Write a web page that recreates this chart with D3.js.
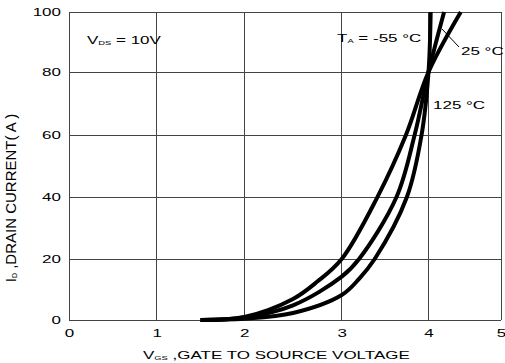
<!DOCTYPE html>
<html><head><meta charset="utf-8">
<script src="https://cdn.jsdelivr.net/npm/d3@7"></script>
<style>
html,body{margin:0;padding:0;background:#fff;}
svg{display:block;font-family:"Liberation Sans",Arial,sans-serif;}
</style></head>
<body>
<svg id="c" width="505" height="363"></svg>
<script>
// ---- data ----
const vgsTicks = [0, 1, 2, 3, 4, 5];
const idTicks = [0, 20, 40, 60, 80, 100];
const seriesNames = ["125 °C", "25 °C", "-55 °C"];
const vgs125 = [1.5, 2.0, 2.5, 2.75, 3.0, 3.41, 3.74, 4.0, 4.445];
const id125  = [0, 1.0, 6.9, 12.6, 20, 40, 60, 80, 100];
const vgs25  = [1.5, 2.0, 2.5, 3.0, 3.2, 3.63, 3.84, 4.0, 4.215];
const id25   = [0, 0.8, 4.8, 14.2, 20, 40, 60, 80, 100];
const vgsM55 = [1.5, 2.0, 2.5, 3.0, 3.2, 3.38, 3.75, 3.92, 4.0, 4.03];
const idM55  = [0, 0.4, 2.3, 8.2, 13.5, 20, 40, 60, 80, 100];

const SX = 1.7; // horizontal glyph stretch of the reference
const svg = d3.select("#c");
const x = d3.scaleLinear().domain(vgsTicks).range([69, 156.7, 244.3, 341.7, 428.5, 501]);
const y = d3.scaleLinear().domain(idTicks).range([320, 259, 197.3, 135, 72, 12]);
const grid = "#444";

// grid
const g = svg.append("g");
g.selectAll("line.v").data(vgsTicks).join("line")
  .attr("x1", d => x(d)).attr("x2", d => x(d)).attr("y1", y(0)).attr("y2", y(100))
  .attr("stroke", grid).attr("stroke-width", 1).attr("shape-rendering", "crispEdges");
g.selectAll("line.h").data(idTicks).join("line")
  .attr("y1", d => y(d)).attr("y2", d => y(d)).attr("x1", x(0)).attr("x2", x(5))
  .attr("stroke", grid).attr("stroke-width", 1).attr("shape-rendering", "crispEdges");

// axes (labels only)
const ya = svg.append("g").attr("transform", `translate(${x(0)},0)`)
  .call(d3.axisLeft(y).tickValues(idTicks).tickSize(0).tickPadding(0));
ya.select(".domain").remove();
ya.selectAll(".tick text").attr("font-size", 10).attr("fill", "#000")
  .attr("font-family", "Liberation Sans, Arial, sans-serif")
  .attr("x", -8 / SX).attr("dy", "0.35em")
  .attr("transform", `scale(${SX},1)`);

const xa = svg.append("g").attr("transform", `translate(0,${y(0)})`)
  .call(d3.axisBottom(x).tickValues(vgsTicks).tickSize(0).tickPadding(0).tickFormat(d3.format("d")));
xa.select(".domain").remove();
xa.selectAll(".tick text").attr("font-size", 10).attr("fill", "#000")
  .attr("font-family", "Liberation Sans, Arial, sans-serif")
  .attr("y", 10).attr("dy", "0.71em")
  .attr("transform", `scale(${SX},1)`);

// curves
const line = d3.line().x(d => x(d[0])).y(d => y(d[1])).curve(d3.curveCatmullRom.alpha(0.5));
const series = [
  d3.zip(vgs125, id125),
  d3.zip(vgs25, id25),
  d3.zip(vgsM55, idM55)
];
svg.append("g").selectAll("path").data(series).join("path")
  .attr("d", line).attr("fill", "none").attr("stroke", "#000")
  .attr("stroke-width", 4).attr("stroke-linecap", "butt");

// stretched text helper
function stext(px, py, parts, size, anchor) {
  const t = svg.append("text")
    .attr("transform", `translate(${px},${py}) scale(${SX},1)`)
    .attr("font-size", size).attr("fill", "#000")
    .attr("text-anchor", anchor || "start");
  parts.forEach(p => {
    const s = t.append("tspan").text(p.t);
    if (p.sub) s.attr("font-size", size * 0.55).attr("dy", 1);
    if (p.back) s.attr("dy", -1);
  });
  return t;
}

// annotations
stext(87, 44, [{t: "V"}, {t: "DS", sub: true}, {t: " = 10V", back: true}], 10);
stext(337, 42, [{t: "T"}, {t: "A", sub: true}, {t: " = -55 °C", back: true}], 10);
stext(461, 55, [{t: seriesNames[1]}], 10);
stext(433, 109, [{t: seriesNames[0]}], 10);
svg.append("line").attr("x1", 442).attr("y1", 29).attr("x2", 459).attr("y2", 47)
  .attr("stroke", "#000").attr("stroke-width", 1);

// axis titles
stext(143, 359, [{t: "V"}, {t: "GS", sub: true}, {t: " ,GATE TO SOURCE VOLTAGE", back: true}], 10);
const yt = svg.append("text").attr("transform", "translate(16,198) rotate(-90)")
  .attr("text-anchor", "middle").attr("font-size", 15).attr("fill", "#000");
yt.append("tspan").text("I");
yt.append("tspan").text("D").attr("font-size", 7).attr("dy", 1);
yt.append("tspan").text(" ,DRAIN CURRENT( A )").attr("dy", -1);
</script>
</body></html>
